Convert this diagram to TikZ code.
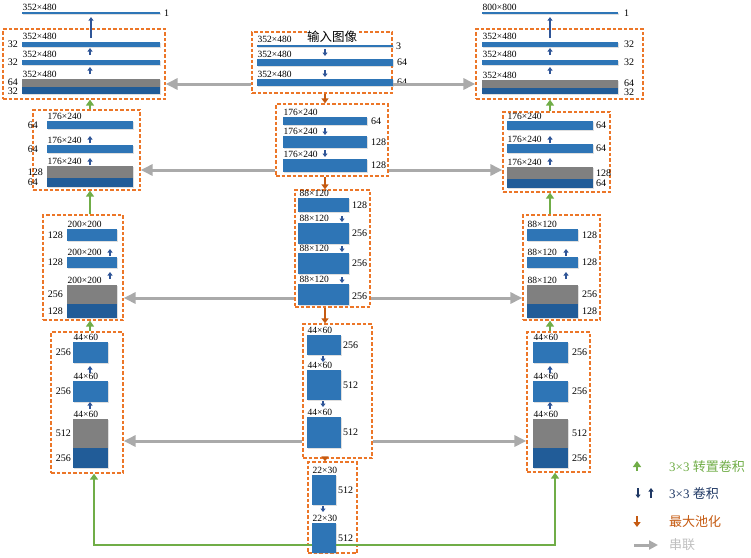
\documentclass[tikz,border=0pt]{standalone}
\usepackage{fontspec}
\setmainfont{Liberation Serif}
\newfontfamily\cjk{Noto Sans CJK SC}
\usetikzlibrary{positioning,arrows.meta,shadows}

\definecolor{barblue}{RGB}{46,117,182}
\definecolor{lowblue}{RGB}{33,92,152}
\definecolor{catgray}{RGB}{128,128,128}
\definecolor{boxorange}{RGB}{236,118,40}
\definecolor{poolorange}{RGB}{197,90,17}
\definecolor{transgreen}{RGB}{112,173,71}
\definecolor{convblue}{RGB}{47,85,151}
\definecolor{linkgray}{RGB}{170,170,170}
\definecolor{legblue}{RGB}{31,56,100}
\definecolor{leggray}{RGB}{191,191,191}

\tikzset{
  fmap/.style={rectangle, fill=barblue, inner sep=0pt, outer sep=0pt,
    drop shadow={opacity=0.25, shadow xshift=0.8pt, shadow yshift=-0.8pt}},
  catmap/.style={fmap, fill=catgray},
  lowmap/.style={fmap, fill=lowblue},
  dimlab/.style={font=\fontsize{9.5}{10}\selectfont, inner sep=0.5pt},
  chlab/.style={font=\fontsize{10}{11}\selectfont, inner sep=0pt},
  stage/.style={rectangle, draw=boxorange, dash pattern=on 3.5pt off 2pt, line width=1.25pt, inner sep=0pt},
  convtip/.style={draw=convblue, line width=2pt, -{Triangle[width=5pt,length=3.5pt]}},
  poolarrow/.style={draw=poolorange, line width=2.5pt, -{Triangle[width=7pt,length=5pt]}},
  transarrow/.style={draw=transgreen, line width=2.5pt, -{Triangle[width=8pt,length=6pt]}},
  concat/.style={draw=linkgray, line width=3pt, -{Triangle[width=11pt,length=12pt]}},
  legtext/.style={anchor=west, inner sep=0pt, font=\fontsize{13}{14}\selectfont}
}

\begin{document}
\begin{tikzpicture}[x=1pt,y=-1pt]
\useasboundingbox (0,0) rectangle (751,557);

% dashed stages
\node[stage, minimum width=162, minimum height=70] (L1) at (84,64) {};
\node[stage, minimum width=107, minimum height=80] (L2) at (86.5,150) {};
\node[stage, minimum width=80, minimum height=105] (L3) at (83,267.5) {};
\node[stage, minimum width=72, minimum height=141] (L4) at (87,402.5) {};
\node[stage, minimum width=140, minimum height=61] (C1) at (322,62.5) {};
\node[stage, minimum width=112, minimum height=72] (C2) at (332,140) {};
\node[stage, minimum width=75, minimum height=117] (C3) at (332.5,248.5) {};
\node[stage, minimum width=69, minimum height=134] (C4) at (337.5,391) {};
\node[stage, minimum width=49, minimum height=91] (C5) at (332.5,507.5) {};
\node[stage, minimum width=167, minimum height=70] (R1) at (559.5,64) {};
\node[stage, minimum width=107, minimum height=80] (R2) at (556.5,152) {};
\node[stage, minimum width=77, minimum height=105] (R3) at (561.5,267.5) {};
\node[stage, minimum width=63, minimum height=140] (R4) at (558.5,402) {};

\node[fill=white, inner sep=0.5pt, font=\cjk\fontsize{12.5}{13}\selectfont] (intitle) at (332,37) {输入图像};

% left column
\node[fmap, minimum width=138, minimum height=2.2] (lout) at (91,13) {};
\node[dimlab, above right=1pt and 0pt of lout.north west] (lout-dim) {352×480};
\node[chlab, right=4pt of lout] (lout-ch) {1};
\node[fmap, minimum width=138, minimum height=5] (l1a) at (91,44.5) {};
\node[dimlab, above right=2pt and 0pt of l1a.north west] (l1a-dim) {352×480};
\node[chlab, left=4pt of l1a] (l1a-ch) {32};
\node[fmap, minimum width=138, minimum height=5] (l1b) at (91,62.5) {};
\node[dimlab, above right=2pt and 0pt of l1b.north west] (l1b-dim) {352×480};
\node[chlab, left=4pt of l1b] (l1b-ch) {32};
\node[catmap, minimum width=138, minimum height=8] (l1c) at (91,83) {};
\node[dimlab, above right=1pt and 0pt of l1c.north west] (l1c-dim) {352×480};
\node[chlab, left=4pt of l1c, yshift=0.5pt] (l1c-ch) {64};
\node[lowmap, minimum width=138, minimum height=7] (l1d) at (91,90.5) {};
\node[chlab, left=4pt of l1d, yshift=-1pt] (l1d-ch) {32};

\node[fmap, minimum width=86, minimum height=8] (l2a) at (90,125) {};
\node[dimlab, above right=0.5pt and 0pt of l2a.north west] (l2a-dim) {176×240};
\node[chlab, left=9pt of l2a] (l2a-ch) {64};
\node[fmap, minimum width=86, minimum height=8] (l2b) at (90,149) {};
\node[dimlab, above right=0.5pt and 0pt of l2b.north west] (l2b-dim) {176×240};
\node[chlab, left=9pt of l2b] (l2b-ch) {64};
\node[catmap, minimum width=86, minimum height=12] (l2c) at (90,172) {};
\node[dimlab, above right=0.5pt and 0pt of l2c.north west] (l2c-dim) {176×240};
\node[chlab, left=4pt of l2c] (l2c-ch) {128};
\node[lowmap, minimum width=86, minimum height=9] (l2d) at (90,182.5) {};
\node[chlab, left=9pt of l2d] (l2d-ch) {64};

\node[fmap, minimum width=50, minimum height=12] (l3a) at (92,235) {};
\node[dimlab, above right=0.5pt and 0pt of l3a.north west] (l3a-dim) {200×200};
\node[chlab, left=4pt of l3a] (l3a-ch) {128};
\node[fmap, minimum width=50, minimum height=11] (l3b) at (92,262.5) {};
\node[dimlab, above right=0.5pt and 0pt of l3b.north west] (l3b-dim) {200×200};
\node[chlab, left=4pt of l3b] (l3b-ch) {128};
\node[catmap, minimum width=50, minimum height=19] (l3c) at (92,294.5) {};
\node[dimlab, above right=0.5pt and 0pt of l3c.north west] (l3c-dim) {200×200};
\node[chlab, left=4pt of l3c] (l3c-ch) {256};
\node[lowmap, minimum width=50, minimum height=14] (l3d) at (92,311) {};
\node[chlab, left=4pt of l3d] (l3d-ch) {128};

\node[fmap, minimum width=35, minimum height=21] (l4a) at (90.5,352.5) {};
\node[dimlab, above right=0.5pt and 0pt of l4a.north west] (l4a-dim) {44×60};
\node[chlab, left=2pt of l4a] (l4a-ch) {256};
\node[fmap, minimum width=35, minimum height=21] (l4b) at (90.5,391.5) {};
\node[dimlab, above right=0.5pt and 0pt of l4b.north west] (l4b-dim) {44×60};
\node[chlab, left=2pt of l4b] (l4b-ch) {256};
\node[catmap, minimum width=35, minimum height=29] (l4c) at (90.5,433.5) {};
\node[dimlab, above right=0.5pt and 0pt of l4c.north west] (l4c-dim) {44×60};
\node[chlab, left=2pt of l4c] (l4c-ch) {512};
\node[lowmap, minimum width=35, minimum height=20] (l4d) at (90.5,458) {};
\node[chlab, left=2pt of l4d] (l4d-ch) {256};

% centre column
\node[fmap, minimum width=136, minimum height=2.5] (c1a) at (325,46) {};
\node[dimlab, above right=1pt and 0pt of c1a.north west] (c1a-dim) {352×480};
\node[chlab, right=3pt of c1a] (c1a-ch) {3};
\node[fmap, minimum width=136, minimum height=7] (c1b) at (325,62.5) {};
\node[dimlab, above right=1pt and 0pt of c1b.north west] (c1b-dim) {352×480};
\node[chlab, right=4pt of c1b] (c1b-ch) {64};
\node[fmap, minimum width=136, minimum height=7] (c1c) at (325,82.5) {};
\node[dimlab, above right=1pt and 0pt of c1c.north west] (c1c-dim) {352×480};
\node[chlab, right=4pt of c1c] (c1c-ch) {64};

\node[fmap, minimum width=84, minimum height=8] (c2a) at (325,121) {};
\node[dimlab, above right=0.5pt and 0pt of c2a.north west] (c2a-dim) {176×240};
\node[chlab, right=4pt of c2a] (c2a-ch) {64};
\node[fmap, minimum width=84, minimum height=12] (c2b) at (325,142) {};
\node[dimlab, above right=0.5pt and 0pt of c2b.north west] (c2b-dim) {176×240};
\node[chlab, right=4pt of c2b] (c2b-ch) {128};
\node[fmap, minimum width=84, minimum height=13] (c2c) at (325,165.5) {};
\node[dimlab, above right=0.5pt and 0pt of c2c.north west] (c2c-dim) {176×240};
\node[chlab, right=4pt of c2c] (c2c-ch) {128};

\node[fmap, minimum width=51, minimum height=14] (c3a) at (323.5,205) {};
\node[dimlab, above right=0.5pt and 1pt of c3a.north west] (c3a-dim) {88×120};
\node[chlab, right=3pt of c3a] (c3a-ch) {128};
\node[fmap, minimum width=51, minimum height=21] (c3b) at (323.5,233.5) {};
\node[dimlab, above right=0.5pt and 1pt of c3b.north west] (c3b-dim) {88×120};
\node[chlab, right=3pt of c3b] (c3b-ch) {256};
\node[fmap, minimum width=51, minimum height=21] (c3c) at (323.5,263.5) {};
\node[dimlab, above right=0.5pt and 1pt of c3c.north west] (c3c-dim) {88×120};
\node[chlab, right=3pt of c3c] (c3c-ch) {256};
\node[fmap, minimum width=51, minimum height=21] (c3d) at (323.5,294.5) {};
\node[dimlab, above right=0.5pt and 1pt of c3d.north west] (c3d-dim) {88×120};
\node[chlab, right=3pt of c3d, yshift=-2pt] (c3d-ch) {256};

\node[fmap, minimum width=34, minimum height=20] (c4a) at (324,345) {};
\node[dimlab, above right=0.5pt and 0pt of c4a.north west] (c4a-dim) {44×60};
\node[chlab, right=2pt of c4a] (c4a-ch) {256};
\node[fmap, minimum width=34, minimum height=30] (c4b) at (324,385) {};
\node[dimlab, above right=0.5pt and 0pt of c4b.north west] (c4b-dim) {44×60};
\node[chlab, right=2pt of c4b] (c4b-ch) {512};
\node[fmap, minimum width=34, minimum height=31] (c4c) at (324,432.5) {};
\node[dimlab, above right=0.5pt and 0pt of c4c.north west] (c4c-dim) {44×60};
\node[chlab, right=2pt of c4c] (c4c-ch) {512};

\node[fmap, minimum width=24, minimum height=30] (c5a) at (324,490) {};
\node[dimlab, above right=0.5pt and 0pt of c5a.north west] (c5a-dim) {22×30};
\node[chlab, right=2pt of c5a] (c5a-ch) {512};
\node[fmap, minimum width=24, minimum height=30] (c5b) at (324,538) {};
\node[dimlab, above right=0.5pt and 0pt of c5b.north west] (c5b-dim) {22×30};
\node[chlab, right=2pt of c5b] (c5b-ch) {512};

% right column
\node[fmap, minimum width=136, minimum height=2.2] (rout) at (550,13) {};
\node[dimlab, above right=1pt and 0pt of rout.north west] (rout-dim) {800×800};
\node[chlab, right=6pt of rout] (rout-ch) {1};
\node[fmap, minimum width=136, minimum height=5] (r1a) at (550,44.5) {};
\node[dimlab, above right=2pt and 0pt of r1a.north west] (r1a-dim) {352×480};
\node[chlab, right=6pt of r1a] (r1a-ch) {32};
\node[fmap, minimum width=136, minimum height=5] (r1b) at (550,62.5) {};
\node[dimlab, above right=2pt and 0pt of r1b.north west] (r1b-dim) {352×480};
\node[chlab, right=6pt of r1b] (r1b-ch) {32};
\node[catmap, minimum width=136, minimum height=8] (r1c) at (550,84) {};
\node[dimlab, above right=1pt and 0pt of r1c.north west] (r1c-dim) {352×480};
\node[chlab, right=6pt of r1c, yshift=0.5pt] (r1c-ch) {64};
\node[lowmap, minimum width=136, minimum height=6] (r1d) at (550,91) {};
\node[chlab, right=6pt of r1d, yshift=-1pt] (r1d-ch) {32};

\node[fmap, minimum width=86, minimum height=9] (r2a) at (550,125.5) {};
\node[dimlab, above right=0.5pt and 0pt of r2a.north west] (r2a-dim) {176×240};
\node[chlab, right=3pt of r2a] (r2a-ch) {64};
\node[fmap, minimum width=86, minimum height=9] (r2b) at (550,148.5) {};
\node[dimlab, above right=0.5pt and 0pt of r2b.north west] (r2b-dim) {176×240};
\node[chlab, right=3pt of r2b] (r2b-ch) {64};
\node[catmap, minimum width=86, minimum height=12] (r2c) at (550,173) {};
\node[dimlab, above right=0.5pt and 0pt of r2c.north west] (r2c-dim) {176×240};
\node[chlab, right=3pt of r2c] (r2c-ch) {128};
\node[lowmap, minimum width=86, minimum height=9] (r2d) at (550,183.5) {};
\node[chlab, right=3pt of r2d] (r2d-ch) {64};

\node[fmap, minimum width=51, minimum height=12] (r3a) at (552.5,235) {};
\node[dimlab, above right=0.5pt and 0pt of r3a.north west] (r3a-dim) {88×120};
\node[chlab, right=4pt of r3a] (r3a-ch) {128};
\node[fmap, minimum width=51, minimum height=11] (r3b) at (552.5,262.5) {};
\node[dimlab, above right=0.5pt and 0pt of r3b.north west] (r3b-dim) {88×120};
\node[chlab, right=4pt of r3b] (r3b-ch) {128};
\node[catmap, minimum width=51, minimum height=19] (r3c) at (552.5,294.5) {};
\node[dimlab, above right=0.5pt and 0pt of r3c.north west] (r3c-dim) {88×120};
\node[chlab, right=4pt of r3c] (r3c-ch) {256};
\node[lowmap, minimum width=51, minimum height=14] (r3d) at (552.5,311) {};
\node[chlab, right=4pt of r3d] (r3d-ch) {128};

\node[fmap, minimum width=35, minimum height=21] (r4a) at (550.5,352.5) {};
\node[dimlab, above right=0.5pt and 0pt of r4a.north west] (r4a-dim) {44×60};
\node[chlab, right=4pt of r4a] (r4a-ch) {256};
\node[fmap, minimum width=35, minimum height=21] (r4b) at (550.5,391.5) {};
\node[dimlab, above right=0.5pt and 0pt of r4b.north west] (r4b-dim) {44×60};
\node[chlab, right=4pt of r4b] (r4b-ch) {256};
\node[catmap, minimum width=35, minimum height=29] (r4c) at (550.5,433.5) {};
\node[dimlab, above right=0.5pt and 0pt of r4c.north west] (r4c-dim) {44×60};
\node[chlab, right=4pt of r4c] (r4c-ch) {512};
\node[lowmap, minimum width=35, minimum height=20] (r4d) at (550.5,458) {};
\node[chlab, right=4pt of r4d] (r4d-ch) {256};

% 3x3 conv marks
\draw[convtip, line width=2.5pt, shorten <=4pt, shorten >=3pt] (l1a.north) -- (lout.south);
\draw[convtip, line width=2.5pt, shorten <=4pt, shorten >=3pt] (r1a.north) -- (rout.south);
\foreach \x/\ya/\yb in {90/55/48, 90/74/67, 90/143/136, 90/165/158, 110/256/249, 110/279/272,
    90/373/366, 90/409/402, 550/55/48, 550/74/67, 550/143/136, 550/165/158,
    566/256/249, 566/279/272, 550/373/366, 550/409/402}
  \draw[convtip] (\x,\ya) -- (\x,\yb);
\foreach \x/\ya/\yb in {325/49/56, 325/70/77, 325/128/135, 325/150/157, 342/216/222,
    342/246/252, 342/277/283, 323/356/362, 323/401/407, 323/506/512}
  \draw[convtip] (\x,\ya) -- (\x,\yb);

% max pooling
\coordinate (po) at (325,0);
\draw[poolarrow] (po |- C1.south) -- (po |- C2.north);
\draw[poolarrow] (po |- C2.south) -- (po |- C3.north);
\draw[poolarrow] (po |- C3.south) -- (po |- C4.north);
\draw[poolarrow] (po |- C4.south) -- (po |- C5.north);

% concatenation
\coordinate (k1) at (0,84);
\coordinate (k2) at (0,170);
\coordinate (k3) at (0,298);
\coordinate (k4) at (0,441);
\draw[concat] (C1.west |- k1) -- (L1.east |- k1);
\draw[concat] (C1.east |- k1) -- (R1.west |- k1);
\draw[concat] (C2.west |- k2) -- (L2.east |- k2);
\draw[concat] (C2.east |- k2) -- (R2.west |- k2);
\draw[concat] (C3.west |- k3) -- (L3.east |- k3);
\draw[concat] (C3.east |- k3) -- (R3.west |- k3);
\draw[concat] (C4.west |- k4) -- (L4.east |- k4);
\draw[concat] (C4.east |- k4) -- (R4.west |- k4);

% transposed conv
\coordinate (gl) at (90,0);
\coordinate (gr) at (550,0);
\draw[transarrow] (gl |- L2.north) -- (gl |- L1.south);
\draw[transarrow] (gl |- L3.north) -- (gl |- L2.south);
\draw[transarrow] (gl |- L4.north) -- (gl |- L3.south);
\draw[transarrow] (gr |- R2.north) -- (gr |- R1.south);
\draw[transarrow] (gr |- R3.north) -- (gr |- R2.south);
\draw[transarrow] (gr |- R4.north) -- (gr |- R3.south);
\coordinate (gb) at (0,545);
\coordinate (glb) at (94,0);
\coordinate (grb) at (555,0);
\draw[transarrow] (c5b.west |- gb) -| (glb |- L4.south);
\draw[transarrow] (c5b.east |- gb) -| (grb |- R4.south);

% legend
\node[legtext, text=transgreen] (legtrans) at (669,467) {3×3 {\cjk 转置卷积}};
\node[legtext, text=legblue] (legconv) at (669,494) {3×3 {\cjk 卷积}};
\node[legtext, text=poolorange] (legpool) at (669,522) {\cjk 最大池化};
\node[legtext, text=leggray] (legcat) at (669,545) {\cjk 串联};
\draw[transarrow, line width=2.5pt] (637,471) -- (637,461);
\draw[convtip, draw=legblue, line width=2.5pt] (638,488) -- (638,498);
\draw[convtip, draw=legblue, line width=2.5pt] (651,498) -- (651,488);
\draw[poolarrow] (637,516) -- (637,527);
\draw[concat, -{Triangle[width=9pt,length=9pt]}] (634,545) -- (658,545);
\end{tikzpicture}
\end{document}
